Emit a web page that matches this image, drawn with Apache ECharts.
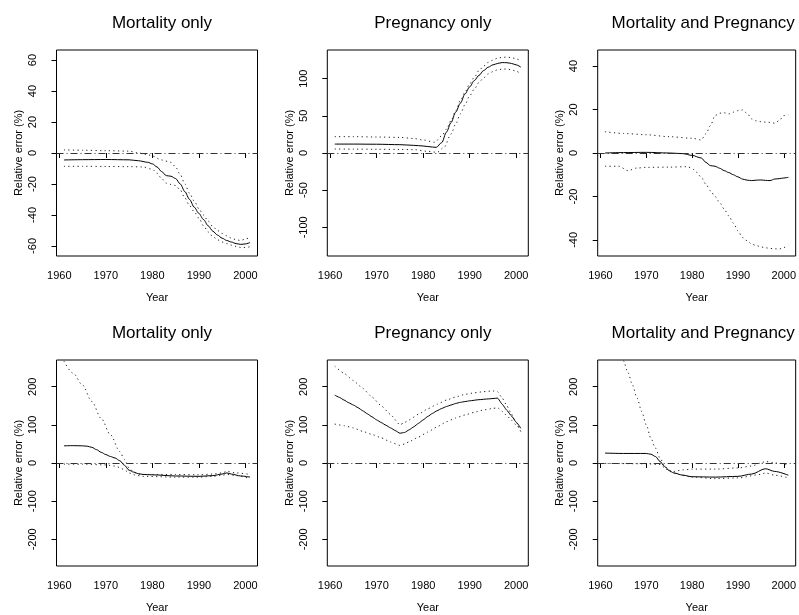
<!DOCTYPE html>
<html><head><meta charset="utf-8">
<script src="https://cdn.jsdelivr.net/npm/echarts@6/dist/echarts.min.js"></script>
<style>html,body{margin:0;padding:0;background:#fff}#c{width:799px;height:615px}</style>
</head><body><div id="c"></div>
<script>
// ---- Data ----
const titles = ["Mortality only","Pregnancy only","Mortality and Pregnancy","Mortality only","Pregnancy only","Mortality and Pregnancy"];
const xTicks = [1960,1970,1980,1990,2000];
const yTicks1 = [-60,-40,-20,0,20,40,60];
const yTicks2 = [-100,-50,0,50,100];
const yTicks3 = [-40,-20,0,20,40];
const yTicksB = [-200,-100,0,100,200];

const est1 = [[1961,-4.5],[1965,-4.3],[1970,-4.2],[1975,-4.4],[1977,-5],[1979,-6],[1980,-7],[1981,-9],[1982,-12],[1983,-14.6],[1984,-15],[1985,-16.5],[1986,-20],[1987,-25],[1988,-30],[1989,-35],[1990,-39],[1991,-43],[1992,-47],[1993,-50.5],[1994,-53],[1995,-55],[1996,-56.5],[1997,-57.5],[1998,-58.5],[1999,-59],[2000,-58.7],[2001,-57.8]];
const up1 = [[1961,2],[1965,1.8],[1970,1.5],[1975,1.2],[1977,0],[1979,-1],[1980,-2],[1982,-4.5],[1984,-6],[1985,-9],[1986,-14],[1987,-20],[1988,-26],[1989,-31],[1990,-36],[1991,-40],[1992,-44],[1993,-47.5],[1994,-50],[1995,-52],[1996,-53.5],[1997,-55],[1998,-56],[1999,-56.5],[2000,-55.5],[2001,-54.5]];
const lo1 = [[1961,-8.6],[1965,-8.6],[1970,-8.7],[1975,-8.8],[1978,-9],[1980,-10.5],[1981,-13],[1982,-16.5],[1983,-19.5],[1984,-20.3],[1985,-21],[1986,-24],[1987,-29],[1988,-34],[1989,-38],[1990,-42],[1991,-47],[1992,-51],[1993,-54],[1994,-56],[1995,-57.5],[1996,-58.5],[1997,-59.5],[1998,-60.3],[1999,-61],[2000,-61],[2001,-60.5]];

const est2 = [[1961,12],[1965,12],[1970,11.8],[1975,11.2],[1978,10.3],[1980,9.4],[1982,8],[1982.8,7.6],[1984,14],[1985,28],[1986,41],[1987,55],[1988,67],[1989,79.5],[1990,89],[1991,97.5],[1992,104.5],[1993,111],[1994,115.5],[1995,118.6],[1996,120.5],[1997,121.7],[1998,121.5],[1999,120.5],[2000,118.6],[2001,115.5]];
const up2 = [[1961,22],[1965,22],[1970,21.5],[1975,21],[1978,19.5],[1980,17.5],[1982.5,14.4],[1984,23],[1985,32],[1986,43.6],[1987,57],[1988,70.5],[1989,82],[1990,93],[1991,102],[1992,111],[1993,117],[1994,122],[1995,125],[1996,127.6],[1997,128.7],[1998,129],[1999,128.3],[2000,126.7],[2001,123.5]];
const lo2 = [[1961,5.4],[1965,5.2],[1970,5],[1975,4.8],[1978,4.5],[1981,2.2],[1983,0.9],[1984.5,7.6],[1986,25.6],[1987,39],[1988,52.6],[1989,65],[1990,77],[1991,86],[1992,95],[1993,101],[1994,106.5],[1995,109.5],[1996,112],[1997,112.8],[1998,113],[1999,112],[2000,110],[2001,106.5]];

const est3 = [[1961,0],[1965,0.2],[1970,0.3],[1975,0],[1978,-0.3],[1980,-1.1],[1982,-2.3],[1983,-4.3],[1984,-5.8],[1985,-6.1],[1986,-7],[1987,-8.1],[1988,-9],[1989,-10],[1990,-11],[1991,-12],[1992,-12.5],[1993,-12.7],[1994,-12.5],[1995,-12.4],[1996,-12.6],[1997,-12.7],[1998,-12],[1999,-11.8],[2000,-11.5],[2001,-11.2]];
const up3 = [[1961,9.8],[1965,9],[1970,8.4],[1975,7.5],[1980,6.8],[1982,6],[1983,8.8],[1984,12.6],[1985,17.2],[1986,18.3],[1987,18.5],[1988,18],[1989,18.8],[1990,19.5],[1991,19.8],[1992,18.3],[1993,15.7],[1994,14.8],[1995,14.4],[1996,14.2],[1997,14.1],[1998,13.7],[1999,14.9],[2000,17.2],[2001,17.5]];
const lo3 = [[1961,-6.1],[1964,-6.1],[1966,-8.1],[1968,-6.9],[1970,-6.6],[1975,-6.5],[1979,-6.3],[1980,-7.1],[1981,-8.9],[1982,-11.2],[1983,-14.3],[1984,-17.4],[1985,-20],[1986,-22.7],[1987,-25.8],[1988,-28.9],[1989,-32.3],[1990,-35.8],[1991,-38.9],[1992,-40.4],[1993,-41.9],[1994,-42.6],[1995,-43.2],[1996,-43.6],[1997,-43.9],[1998,-44.1],[1999,-44.2],[2000,-43.5],[2001,-42.4]];

const est4 = [[1961,45],[1963,45.5],[1965,45],[1966,44],[1967,41],[1968,35],[1969,28],[1970,22],[1971,17],[1972,13],[1973,6],[1974,-6],[1975,-19],[1976,-24],[1977,-28],[1978,-30],[1980,-31],[1985,-34],[1990,-35],[1993,-33],[1995,-29],[1996,-26],[1997,-29],[1999,-34],[2001,-37]];
const up4 = [[1961,267],[1963,235],[1965,204],[1967,161],[1969,117],[1971,74],[1973,30],[1974,9],[1975,-13],[1976,-24],[1977,-29],[1978,-30],[1985,-30],[1990,-31],[1993,-29],[1995,-26],[1996,-22],[1998,-26],[2001,-30]];
const lo4 = [[1961,-3],[1965,-3],[1970,-5],[1972,-8],[1973,-12],[1974,-18],[1975,-26],[1976,-31],[1978,-35],[1985,-37],[1990,-37],[1993,-35],[1995,-32],[1996,-30],[1998,-33],[2001,-41]];

const est5 = [[1961,178],[1962,172],[1963,165],[1964,158],[1965,152],[1966,145],[1967,137],[1968,129],[1969,121],[1970,113],[1971,106],[1972,99],[1973,92],[1974,85],[1975,78],[1976,80],[1977,87],[1978,95],[1979,104],[1980,113],[1981,122],[1982,130],[1983,137],[1984,143],[1985,148],[1986,152],[1987,156],[1988,159],[1989,161],[1990,163],[1992,166],[1994,168],[1996,170],[1997,154],[1998,138],[1999,123],[2000,107],[2001,91]];
const up5 = [[1961,254],[1963,235],[1965,216],[1967,196],[1969,173],[1971,150],[1973,127],[1975,100],[1976,106],[1977,113],[1979,128],[1981,142],[1983,154],[1985,165],[1987,173],[1989,180],[1991,184],[1993,187],[1995,189],[1996,187],[1997,170],[1998,150],[1999,128],[2000,105],[2001,82]];
const lo5 = [[1961,102],[1963,98],[1965,92],[1967,83],[1969,75],[1971,66],[1973,55],[1975,46],[1976,50],[1977,56],[1979,68],[1981,81],[1983,95],[1985,108],[1987,118],[1989,126],[1991,133],[1993,139],[1995,143],[1996,145],[1997,135],[1998,124],[1999,112],[2000,99],[2001,87]];

const est6 = [[1961,26],[1965,25],[1970,25],[1971,23],[1972,17],[1973,4],[1974,-9],[1975,-20],[1976,-26],[1978,-32],[1980,-36],[1985,-37],[1990,-35],[1993,-29],[1996,-15],[1998,-22],[2001,-32]];
const up6 = [[1961,400],[1962,365],[1963,330],[1964,298],[1965,268],[1966,237],[1967,204],[1968,170],[1969,135],[1970,100],[1971,65],[1972,39],[1973,13],[1974,-9],[1975,-19],[1976,-22],[1978,-18],[1980,-16],[1985,-16],[1990,-13],[1993,-8],[1995,0],[1996,4],[1998,0],[2001,-4]];
const lo6 = [[1961,-1],[1970,-2],[1973,-4],[1974,-12],[1975,-22],[1977,-30],[1980,-37],[1985,-41],[1990,-39],[1995,-30],[1996,-26],[1998,-32],[2001,-39]];

const panelData = [[est1,up1,lo1],[est2,up2,lo2],[est3,up3,lo3],[est4,up4,lo4],[est5,up5,lo5],[est6,up6,lo6]];
const yRanges = [[-66.5,66.5],[-138.6,138.6],[-47.4,47.4],[-270,270],[-270,270],[-270,270]];
const yTickSets = [yTicks1,yTicks2,yTicks3,yTicksB,yTicksB,yTicksB];
const xRange = [1959.4, 2002.6];

// ---- Layout ----
const colLeft = [56.5, 327.3, 597.7];
const rowTop = [50, 360];
const W = 201, H = 206;
const FONT = '"Liberation Sans", Arial, sans-serif';
const smoothing = [0.3, 0.3, 0.3, 0.3, 0.15, 0.3];

const grid = [], xAxis = [], yAxis = [], series = [], title = [];
for (let i = 0; i < 6; i++) {
  const L = colLeft[i % 3], T = rowTop[Math.floor(i / 3)];
  grid.push({left: L, top: T, width: W, height: H, show: true, borderColor: '#000', borderWidth: 1, backgroundColor: 'transparent'});
  xAxis.push({
    type: 'value', gridIndex: i, min: xRange[0], max: xRange[1],
    name: 'Year', nameLocation: 'middle', nameGap: 36,
    nameTextStyle: {fontFamily: FONT, fontSize: 11, color: '#000'},
    axisLine: {show: false},
    axisTick: {show: true, inside: false, length: 5, customValues: xTicks, lineStyle: {color: '#000'}},
    axisLabel: {customValues: xTicks, margin: 14, fontFamily: FONT, fontSize: 11, color: '#000', formatter: v => String(v)},
    splitLine: {show: false}
  });
  yAxis.push({
    type: 'value', gridIndex: i, min: yRanges[i][0], max: yRanges[i][1],
    name: 'Relative error (%)', nameLocation: 'middle', nameGap: 32, nameRotate: 90,
    nameTextStyle: {fontFamily: FONT, fontSize: 11, color: '#000'},
    axisLine: {show: false},
    axisTick: {show: true, inside: false, length: 5, customValues: yTickSets[i], lineStyle: {color: '#000'}},
    axisLabel: {customValues: yTickSets[i], rotate: 90, margin: 18, fontFamily: FONT, fontSize: 11, color: '#000', formatter: v => String(v)},
    splitLine: {show: false}
  });
  title.push({
    text: titles[i], left: L + W / 2, top: T - 40, textAlign: 'center',
    textStyle: {fontFamily: FONT, fontSize: 17, fontWeight: 'normal', color: '#000'}
  });
  const [est, up, lo] = panelData[i];
  series.push({
    type: 'line', xAxisIndex: i, yAxisIndex: i, data: est, showSymbol: false, smooth: smoothing[i], smoothMonotone: 'x',
    lineStyle: {color: '#000', width: 1}, clip: true,
    markLine: {silent: true, symbol: ['none', 'none'], label: {show: false},
      lineStyle: {color: '#333', width: 1, type: [7, 3, 1, 3]}, data: [{yAxis: 0}]}
  });
  for (const d of [up, lo]) {
    series.push({
      type: 'line', xAxisIndex: i, yAxisIndex: i, data: d, showSymbol: false, smooth: smoothing[i], smoothMonotone: 'x',
      lineStyle: {color: '#222', width: 1, type: [1.2, 3.3]}, clip: true
    });
  }
}

const chart = echarts.init(document.getElementById('c'), null, {renderer: 'canvas'});
chart.setOption({animation: false, backgroundColor: '#fff', title, grid, xAxis, yAxis, series});
</script>
</body></html>
